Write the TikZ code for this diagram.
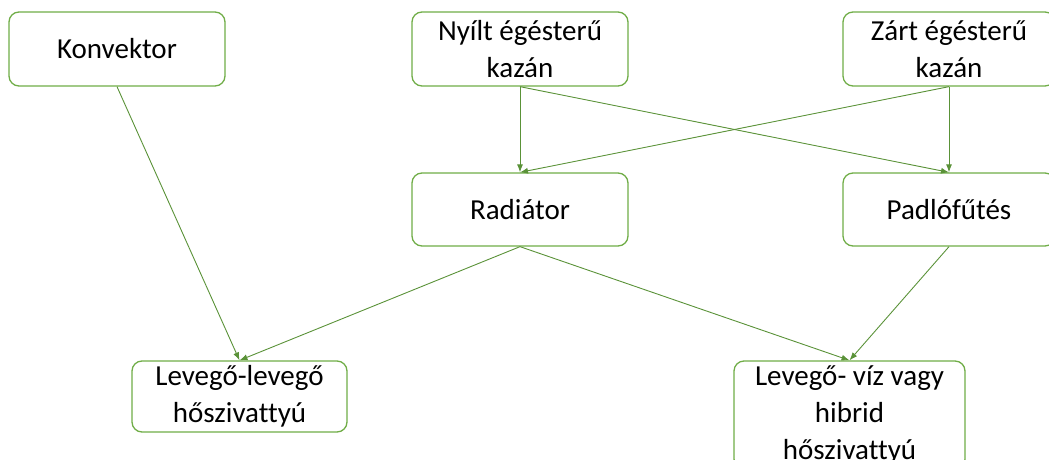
\documentclass[tikz,border=0pt]{standalone}
\usepackage{fontspec}
\setmainfont{Carlito}[Ligatures={NoCommon}]
\usepackage{xcolor}
\usetikzlibrary{arrows.meta, positioning}
\definecolor{boxgreen}{HTML}{70AD47}
\definecolor{linegreen}{HTML}{5A9238}

\begin{document}
\begin{tikzpicture}[
  x=1pt, y=-1pt,
  heater/.style={rectangle, draw=boxgreen, line width=1.3pt, fill=white, rounded corners=10pt, minimum width=216pt, minimum height=74pt, align=center, inner sep=2pt, font=\fontsize{29}{37}\selectfont},
  arrow/.style={-{Latex[length=8pt, width=6pt]}, draw=linegreen, line width=0.9pt}
]
  \useasboundingbox (0,0) rectangle (1049,460);

  % Heat sources
  \node[heater] (konvektor) at (117, 49) {Konvektor};
  \node[heater] (nyilt) at (520, 49) {Nyílt égésterű\\kazán};
  \node[heater, minimum width=212pt] (zart) at (949, 49) {Zárt égésterű\\kazán};

  % Emitters
  \node[heater, minimum height=73pt] (radiator) at (520, 209.5) {Radiátor};
  \node[heater, minimum width=212pt, minimum height=73pt] (padlo) at (949, 209.5) {Padlófűtés};

  % Heat pumps
  \node[heater, minimum width=215pt, minimum height=71pt] (levlev) at (239.5, 396.5) {Levegő-levegő\\hőszivattyú};
  \node[heater, minimum width=231pt, minimum height=108pt] (levviz) at (849.5, 415) {Levegő- víz vagy\\hibrid\\hőszivattyú};

  % Arrows
  \draw[arrow] (konvektor.south) -- (levlev.north);

  \draw[arrow] (nyilt.south) -- (radiator.north);
  \draw[arrow] (nyilt.south) -- (padlo.north);

  \draw[arrow] (zart.south) -- (radiator.north);
  \draw[arrow] (zart.south) -- (padlo.north);

  \draw[arrow] (radiator.south) -- (levlev.north);
  \draw[arrow] (radiator.south) -- (levviz.north);
  \draw[arrow] (padlo.south) -- (levviz.north);
\end{tikzpicture}
\end{document}
